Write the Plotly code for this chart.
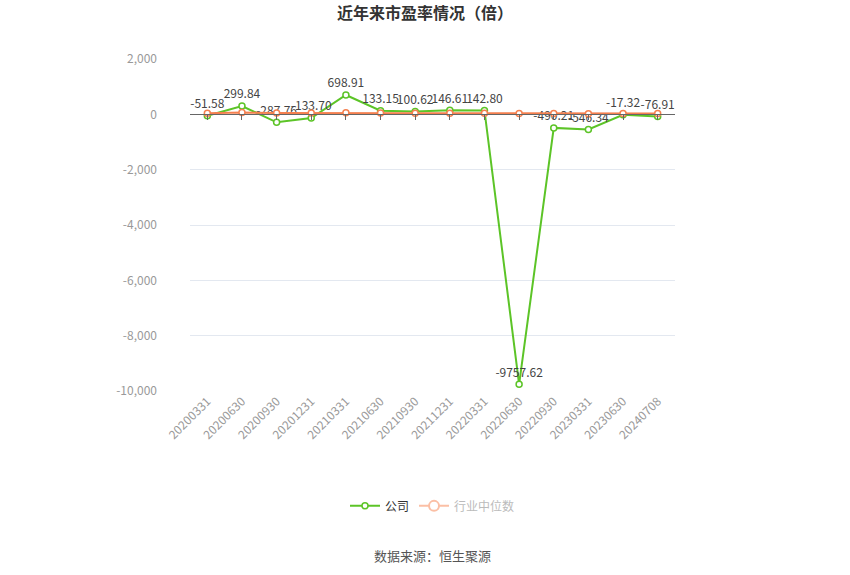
import plotly.graph_objects as go

categories = ["20200331", "20200630", "20200930", "20201231", "20210331", "20210630",
              "20210930", "20211231", "20220331", "20220630", "20220930", "20230331",
              "20230630", "20240708"]
company_pe = [-51.58, 299.84, -287.76, -133.70, 698.91, 133.15, 100.62, 146.61, 142.80,
              -9757.62, -490.21, -546.34, -17.32, -76.91]
industry_pe = [40, 70, 45, 50, 55, 45, 42, 40, 35, 30, 28, 25, 30, 28]
company_labels = [f"{v:.2f}" for v in company_pe]
y_tick_vals = [2000, 0, -2000, -4000, -6000, -8000, -10000]
y_tick_labels = ["2,000", "0", "-2,000", "-4,000", "-6,000", "-8,000", "-10,000"]

GREEN = "#5cc427"
ORANGE = "#f5804f"
FONT = "Noto Sans CJK SC"

fig = go.Figure()

fig.add_trace(go.Scatter(
    x=categories, y=industry_pe, mode="lines+markers", name="行业中位数",
    line=dict(color=ORANGE, width=2),
    marker=dict(symbol="circle", size=6, color="white", line=dict(color=ORANGE, width=1.5)),
    showlegend=False, xaxis="x2", cliponaxis=False,
))
fig.add_trace(go.Scatter(
    x=categories, y=company_pe, mode="lines+markers+text", name="公司",
    text=company_labels, textposition="top center",
    textfont=dict(size=12, color="#444", family=FONT),
    line=dict(color=GREEN, width=2),
    marker=dict(symbol="circle", size=6, color="white", line=dict(color=GREEN, width=1.5)),
    cliponaxis=False,
))
# legend entry for the industry median (shown faded, as in the reference)
fig.add_trace(go.Scatter(
    x=[None], y=[None], mode="lines+markers",
    name='<span style="color:#bbbbbb">行业中位数</span>',
    line=dict(color="#fbbfa5", width=2),
    marker=dict(symbol="circle", size=10, color="white", line=dict(color="#fbbfa5", width=2)),
))

xrange = [-0.5, len(categories) - 0.5]

fig.update_layout(
    width=850, height=575,
    margin=dict(l=190, r=175, t=59, b=184, autoexpand=False),
    paper_bgcolor="white", plot_bgcolor="white",
    font=dict(family=FONT, size=12, color="#999"),
    title=dict(text="<b>近年来市盈率情况（倍）</b>", x=0.5, xanchor="center",
               y=1 - 13 / 575, yanchor="middle",
               font=dict(size=16, color="#333", family=FONT)),
    showlegend=True,
    legend=dict(orientation="h", x=0.5, xanchor="center", y=-0.346, yanchor="middle",
                font=dict(size=12, color="#333", family=FONT), itemwidth=30),
    xaxis=dict(type="category", categoryorder="array", categoryarray=categories,
               range=xrange, tickangle=-45, tickfont=dict(size=12, color="#999"),
               showgrid=False, showline=False, ticks="", zeroline=False,
               automargin=False),
    xaxis2=dict(type="category", matches="x", overlaying="x", anchor="free",
                position=10000 / 12000, showticklabels=False, ticks="outside",
                ticklen=5, tickcolor="#666", showline=True, linecolor="#666",
                linewidth=1, showgrid=False, zeroline=False, automargin=False),
    yaxis=dict(range=[-10000, 2000], tickmode="array", tickvals=y_tick_vals,
               ticktext=y_tick_labels,
               showgrid=True, gridcolor="#e3e8f0", gridwidth=1,
               zeroline=False, showline=False, automargin=False,
               tickfont=dict(size=12, color="#999"), ticklabelstandoff=32),
    annotations=[dict(text="数据来源：恒生聚源", x=0.5, xanchor="center",
                      y=-0.494, yanchor="middle", xref="paper", yref="paper",
                      showarrow=False, font=dict(size=13, color="#555", family=FONT))],
)

fig.write_html("out.html", config={"displayModeBar": False},
               post_script="document.body.style.margin='0';")
